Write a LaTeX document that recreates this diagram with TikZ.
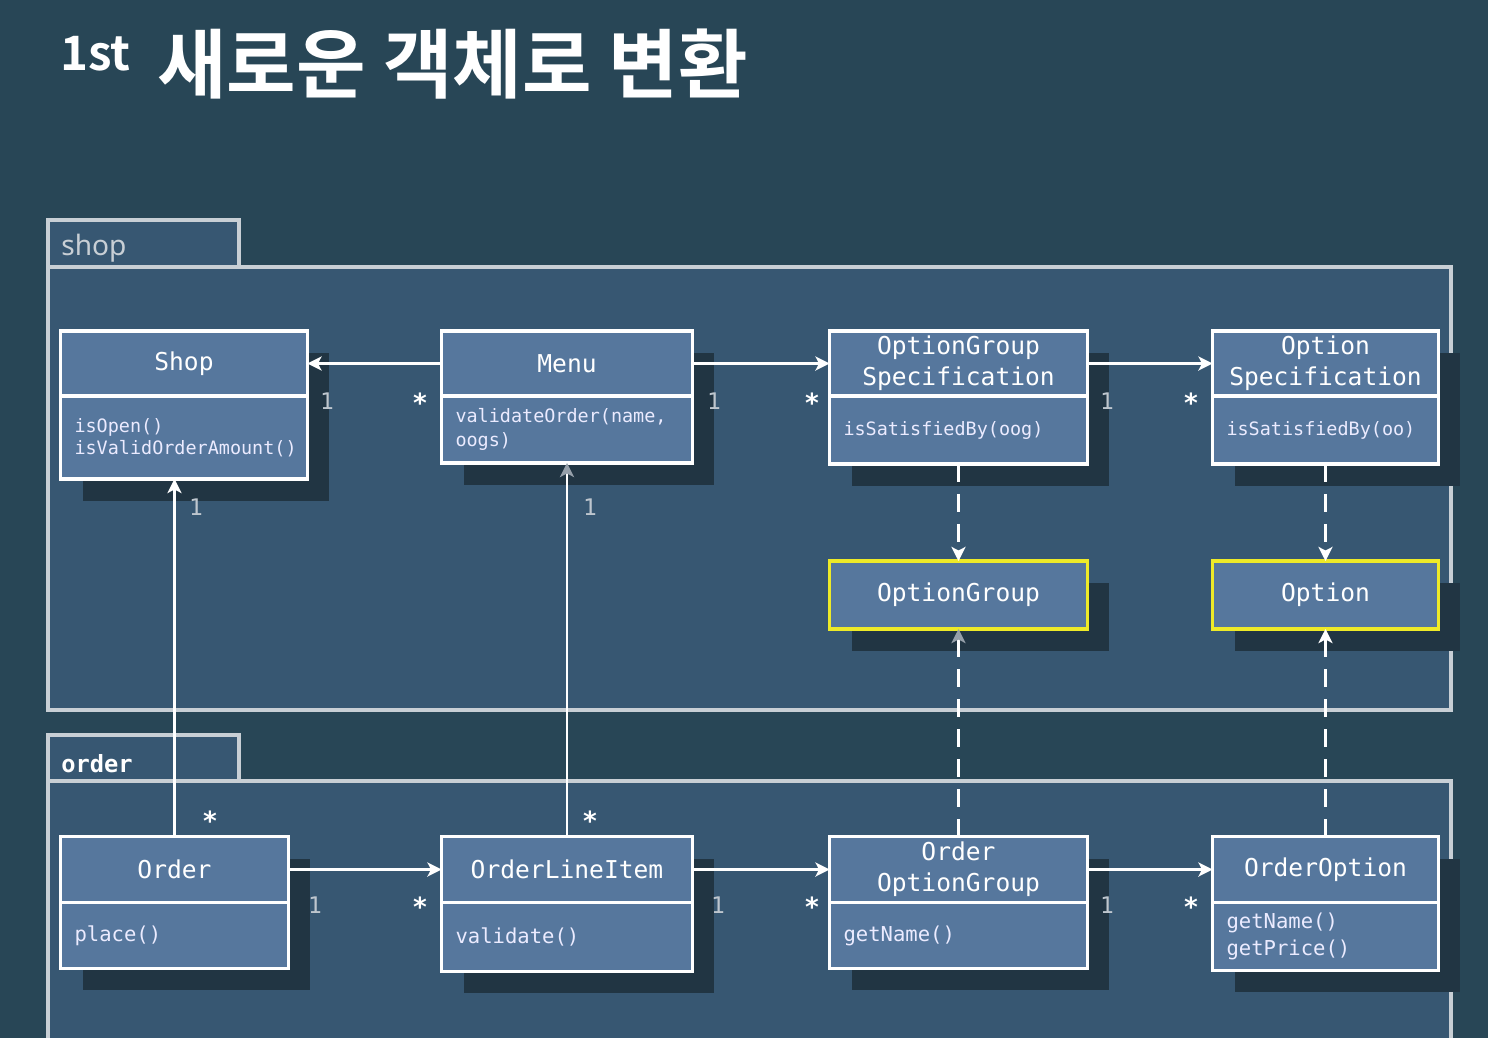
\documentclass[tikz,border=0pt]{standalone}
\usepackage{fontspec}
\setmonofont{DejaVu Sans Mono}
\newfontfamily\kofont{Noto Sans CJK KR Bold}
\newfontfamily\pkgfont{Noto Sans}
\usetikzlibrary{arrows.meta,positioning,shadows}

\definecolor{board}{RGB}{40,70,86}
\definecolor{pkgfill}{RGB}{55,87,114}
\definecolor{pkgline}{RGB}{200,207,213}
\definecolor{boxfill}{RGB}{86,119,157}
\definecolor{boxshade}{RGB}{33,53,67}
\definecolor{multgray}{RGB}{190,198,206}
\definecolor{tipgray}{RGB}{150,160,170}
\definecolor{hiyellow}{RGB}{238,234,40}

\tikzset{
  namebox/.style={draw=white, line width=1.8pt, fill=boxfill, text=white,
    font=\ttfamily\fontsize{14}{17.5}\selectfont, align=center, inner sep=0pt, outer sep=0pt,
    drop shadow={shadow xshift=0.44cm, shadow yshift=-0.44cm, fill=boxshade, opacity=1}},
  methbox/.style={namebox, align=left, inner xsep=0.28cm, text=white!92!blue,
    font=\ttfamily\fontsize{10.5}{12.5}\selectfont},
  objbox/.style={namebox, draw=hiyellow},
  pkgbox/.style={draw=pkgline, line width=2pt, fill=pkgfill},
  assoc/.style={white, line width=1.7pt, -{Stealth[length=8pt,width=8pt,inset=2pt]}},
  depend/.style={assoc, dash pattern=on 0.36cm off 0.24cm},
  fadetip/.style={-{Stealth[length=8pt,width=8pt,inset=2pt,color=tipgray]}},
  one/.style={text=multgray, font=\ttfamily\fontsize{13}{13}\selectfont},
  many/.style={text=white, font=\ttfamily\bfseries\fontsize{15}{15}\selectfont}
}

\begin{document}
\begin{tikzpicture}[x=0.02cm,y=-0.02cm]
\useasboundingbox (0,0) rectangle (1488,1038);
\clip (0,0) rectangle (1488,1038);
\fill[board] (0,0) rectangle (1488,1038);

% title
\node[anchor=base west, text=white, font=\kofont\fontsize{27}{27}\selectfont, inner sep=0pt] (no) at (60,70) {1st};
\node[anchor=base west, text=white, font=\kofont\fontsize{43}{43}\selectfont, inner sep=0pt] (title) at (157,92) {새로운 객체로 변환};

% packages
\draw[pkgbox] (48,220) rectangle (239,267);
\draw[pkgbox] (48,267) rectangle (1451,710);
\node[anchor=base west, text=pkgline, font=\pkgfont\fontsize{16}{16}\selectfont, inner sep=0pt] (shoppkg) at (61,255) {shop};

\draw[pkgbox] (48,735) rectangle (239,781);
\draw[pkgbox] (48,781) rectangle (1451,1060);
\node[anchor=base west, text=white, font=\ttfamily\bfseries\fontsize{13.5}{13.5}\selectfont, inner sep=0pt] (orderpkg) at (61,772) {order};

% shop classes
\node[namebox, minimum width=4.94cm, minimum height=1.3cm] (shop) at (184,363.5) {Shop};
\node[methbox, below=0pt of shop, minimum width=4.94cm, text width=4.38cm, minimum height=1.66cm] (shopm) {isOpen()\\isValidOrderAmount()};

\node[namebox, minimum width=5.02cm, minimum height=1.3cm] (menu) at (567,363.5) {Menu};
\node[methbox, below=0pt of menu, minimum width=5.02cm, text width=4.46cm, minimum height=1.34cm] (menum) {validateOrder(name,\\[1pt]oogs)};

\node[namebox, minimum width=5.16cm, minimum height=1.3cm] (ogs) at (958.5,363.5) {OptionGroup\\Specification};
\node[methbox, below=0pt of ogs, minimum width=5.16cm, text width=4.6cm, minimum height=1.36cm] (ogsm) {isSatisfiedBy(oog)};

\node[namebox, minimum width=4.52cm, minimum height=1.3cm] (os) at (1325.5,363.5) {Option\\Specification};
\node[methbox, below=0pt of os, minimum width=4.52cm, text width=3.96cm, minimum height=1.36cm] (osm) {isSatisfiedBy(oo)};

\node[objbox, minimum width=5.16cm, minimum height=1.36cm] (optgroup) at (958.5,595) {OptionGroup};
\node[objbox, minimum width=4.52cm, minimum height=1.36cm] (option) at (1325.5,595) {Option};

% order classes
\node[namebox, minimum width=4.56cm, minimum height=1.32cm] (order) at (174.5,869.5) {Order};
\node[methbox, below=0pt of order, minimum width=4.56cm, text width=4cm, minimum height=1.32cm, font=\ttfamily\fontsize{11.7}{15.5}\selectfont] (orderm) {place()};

\node[namebox, minimum width=5.02cm, minimum height=1.32cm] (oli) at (567,869.5) {OrderLineItem};
\node[methbox, below=0pt of oli, minimum width=5.02cm, text width=4.46cm, minimum height=1.38cm, font=\ttfamily\fontsize{11.7}{15.5}\selectfont] (olim) {validate()};

\node[namebox, minimum width=5.16cm, minimum height=1.32cm] (oog) at (958.5,869.5) {Order\\OptionGroup};
\node[methbox, below=0pt of oog, minimum width=5.16cm, text width=4.6cm, minimum height=1.32cm, font=\ttfamily\fontsize{11.7}{15.5}\selectfont] (oogm) {getName()};

\node[namebox, minimum width=4.52cm, minimum height=1.32cm] (oo) at (1325.5,869.5) {OrderOption};
\node[methbox, below=0pt of oo, minimum width=4.52cm, text width=3.96cm, minimum height=1.36cm, font=\ttfamily\fontsize{11.7}{15.5}\selectfont] (oom) {getName()\\getPrice()};

% associations
\draw[assoc] (menu) -- (shop);
\draw[assoc] (menu) -- (ogs);
\draw[assoc] (ogs) -- (os);
\draw[depend] (ogsm) -- (optgroup);
\draw[depend] (osm) -- (option);

\draw[assoc] (order) -- (oli);
\draw[assoc] (oli) -- (oog);
\draw[assoc] (oog) -- (oo);

\draw[assoc] (order.north) -- (order.north |- shopm.south);
\draw[assoc,fadetip] (oli) -- (menum);
\draw[depend,fadetip] (oog) -- (optgroup);
\draw[depend] (oo) -- (option);

% multiplicities
\node[one] (m1) at (327,401) {1};
\node[many] (m2) at (420,403) {*};
\node[one] (m3) at (714,401) {1};
\node[many] (m4) at (812,403) {*};
\node[one] (m5) at (1107,401) {1};
\node[many] (m6) at (1191,403) {*};
\node[one] (m7) at (196,507) {1};
\node[many] (m8) at (210,821) {*};
\node[one] (m9) at (590,507) {1};
\node[many] (m10) at (590,821) {*};
\node[one] (m11) at (315,905) {1};
\node[many] (m12) at (420,907) {*};
\node[one] (m13) at (718,905) {1};
\node[many] (m14) at (812,907) {*};
\node[one] (m15) at (1107,905) {1};
\node[many] (m16) at (1191,907) {*};
\end{tikzpicture}
\end{document}
